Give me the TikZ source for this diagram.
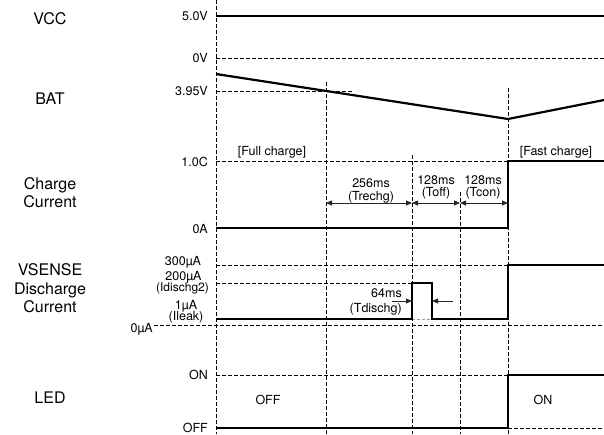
\documentclass[tikz,border=0pt]{standalone}
\usepackage{fontspec}
\setmainfont{TeX Gyre Heros}
\usetikzlibrary{arrows.meta}
\begin{document}
\begin{tikzpicture}[x=1pt,y=-1pt,
  sig/.style={line width=2.2pt, line join=miter},
  gridline/.style={line width=0.9pt, dash pattern=on 3.5pt off 2.5pt},
  dimline/.style={line width=0.8pt, draw=black!85, {Triangle[length=6pt,width=5pt]}-{Triangle[length=6pt,width=5pt]}},
  oneway/.style={line width=0.8pt, draw=black!85, -{Triangle[length=6pt,width=5pt]}},
  big/.style={font=\fontsize{16}{18.5}\selectfont, inner sep=0pt, anchor=base},
  lab/.style={font=\fontsize{12.5}{13}\selectfont, inner sep=0pt, anchor=base},
  labr/.style={lab, anchor=base east},
]
\useasboundingbox (0,0) rectangle (604,434);

% left signal names
\node[big] (vcc) at (50,24) {VCC};
\node[big] (bat) at (50,104) {BAT};
\node[big] (chg1) at (50,189) {Charge};
\node[big] (chg2) at (50,207.5) {Current};
\node[big] (vs1) at (50,275) {VSENSE};
\node[big] (vs2) at (50,294) {Discharge};
\node[big] (vs3) at (50,312) {Current};
\node[big] (led) at (50,403) {LED};

% level labels
\node[labr] (l5) at (208,20.5) {5.0V};
\node[labr] (l0v) at (208,62.5) {0V};
\node[labr] (l395) at (208,95.5) {3.95V};
\node[labr] (l1c) at (208,166.5) {1.0C};
\node[labr] (l0a) at (208,233) {0A};
\node[lab] (l300) at (183,265) {300µA};
\node[lab] (l200) at (183.5,280.5) {200µA};
\node[lab, font=\fontsize{12}{13}\selectfont] (l200b) at (182.5,291.5) {(Idischg2)};
\node[lab] (l1u) at (186,309.5) {1µA};
\node[lab] (l1ub) at (186,320.5) {(Ileak)};
\node[labr] (l0u) at (153,332.5) {0µA};
\node[labr] (lon) at (208,379.5) {ON};
\node[labr] (loff) at (208,432.5) {OFF};

% grid
\draw[gridline] (216,0) -- (216,434);
\draw[gridline] (326,82) -- (326,434);
\draw[gridline] (412,155) -- (412,434);
\draw[gridline] (460,192) -- (460,434);
\draw[gridline] (508,88) -- (508,434);
\draw[gridline] (216,58) -- (604,58);
\draw[gridline] (216,91) -- (352,91);
\draw[gridline] (216,161) -- (508,161);
\draw[gridline] (216,265) -- (508,265);
\draw[gridline] (216,283) -- (412,283);
\draw[gridline] (154,325) -- (604,325);
\draw[gridline] (216,375) -- (508,375);
\draw[gridline] (508,428) -- (604,428);
\draw[line width=0.6pt, draw=black!40, dash pattern=on 3pt off 2pt] (412,319) -- (432,319);

% signals
\draw[sig] (216,16) -- (604,16);
\draw[sig] (216,74) -- (508,119) -- (604,100);
\draw[sig] (216,228) -- (508,228) -- (508,161) -- (604,161);
\draw[sig] (216,319) -- (412,319) -- (412,283) -- (432,283) -- (432,319) -- (508,319) -- (508,265) -- (604,265);
\draw[sig] (216,428) -- (508,428) -- (508,375) -- (604,375);

% texts
\node[lab] (full) at (272,155) {[Full charge]};
\node[lab] (fast) at (556,155) {[Fast charge]};
\node[lab] (t1a) at (371,187.5) {256ms};
\node[lab] (t1b) at (371,200.5) {(Trechg)};
\node[lab] (t2a) at (436,184.5) {128ms};
\node[lab] (t2b) at (436,196.5) {(Toff)};
\node[lab] (t3a) at (483,184.5) {128ms};
\node[lab] (t3b) at (483,196.5) {(Tcon)};
\node[labr] (t4a) at (402,297.5) {64ms};
\node[labr] (t4b) at (402,312.5) {(Tdischg)};
\node[lab] (offt) at (268,404.5) {OFF};
\node[lab] (ont) at (543,404.5) {ON};

% dimension arrows
\coordinate (a1) at (326,203);
\coordinate (a2) at (412,203);
\coordinate (a3) at (460,203);
\coordinate (a4) at (508,203);
\draw[dimline] (a1) -- (a2);
\draw[dimline] (a2) -- (a3);
\draw[dimline] (a3) -- (a4);
\coordinate (b0) at (392,301);
\coordinate (b1) at (412,301);
\coordinate (b2) at (432,301);
\coordinate (b3) at (453,301);
\draw[oneway] (b0) -- (b1);
\draw[oneway] (b3) -- (b2);
\end{tikzpicture}
\end{document}
